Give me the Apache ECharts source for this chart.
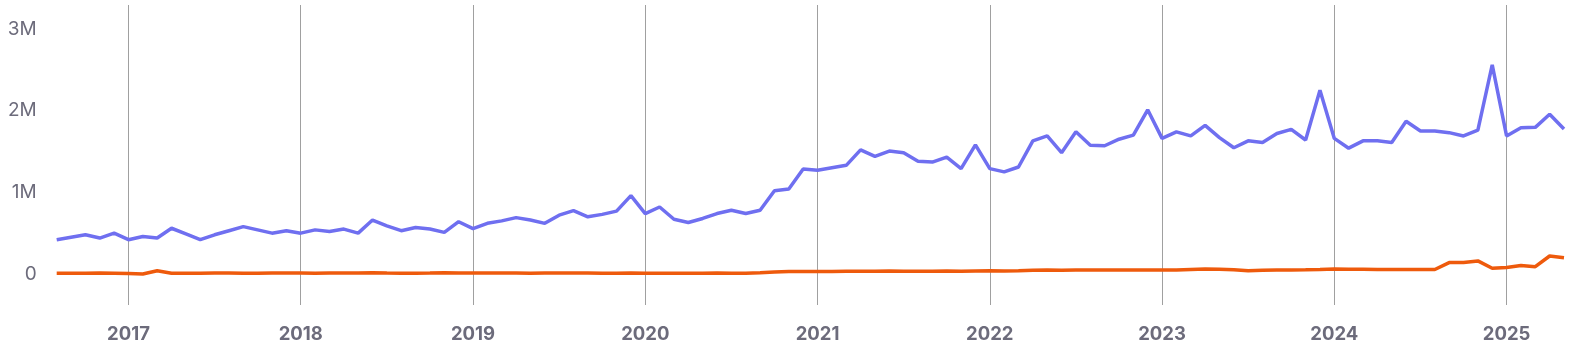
<!DOCTYPE html>
<html>
<head>
<meta charset="utf-8">
<script src="https://cdn.jsdelivr.net/npm/echarts@6/dist/echarts.min.js"></script>
<style>
  html, body { margin: 0; padding: 0; background: #ffffff; }
  #chart { width: 1572px; height: 357px; }
</style>
</head>
<body>
<div id="chart"></div>
<script>
// Monthly categories Aug 2016 .. May 2025
const months = [
  '2016-08','2016-09','2016-10','2016-11','2016-12',
  '2017-01','2017-02','2017-03','2017-04','2017-05','2017-06','2017-07','2017-08','2017-09','2017-10','2017-11','2017-12',
  '2018-01','2018-02','2018-03','2018-04','2018-05','2018-06','2018-07','2018-08','2018-09','2018-10','2018-11','2018-12',
  '2019-01','2019-02','2019-03','2019-04','2019-05','2019-06','2019-07','2019-08','2019-09','2019-10','2019-11','2019-12',
  '2020-01','2020-02','2020-03','2020-04','2020-05','2020-06','2020-07','2020-08','2020-09','2020-10','2020-11','2020-12',
  '2021-01','2021-02','2021-03','2021-04','2021-05','2021-06','2021-07','2021-08','2021-09','2021-10','2021-11','2021-12',
  '2022-01','2022-02','2022-03','2022-04','2022-05','2022-06','2022-07','2022-08','2022-09','2022-10','2022-11','2022-12',
  '2023-01','2023-02','2023-03','2023-04','2023-05','2023-06','2023-07','2023-08','2023-09','2023-10','2023-11','2023-12',
  '2024-01','2024-02','2024-03','2024-04','2024-05','2024-06','2024-07','2024-08','2024-09','2024-10','2024-11','2024-12',
  '2025-01','2025-02','2025-03','2025-04','2025-05'
];

// Values in millions
const blueSeries = [
  0.42,0.45,0.48,0.44,0.50,
  0.42,0.46,0.44,0.56,0.49,0.42,0.48,0.53,0.58,0.54,0.50,0.53,
  0.50,0.54,0.52,0.55,0.50,0.66,0.59,0.53,0.57,0.55,0.51,0.64,
  0.555,0.62,0.65,0.69,0.66,0.62,0.72,0.775,0.70,0.73,0.77,0.96,
  0.74,0.82,0.67,0.63,0.68,0.74,0.78,0.74,0.78,1.02,1.04,1.285,
  1.27,1.30,1.33,1.52,1.44,1.505,1.485,1.38,1.37,1.43,1.29,1.58,
  1.29,1.25,1.31,1.63,1.69,1.485,1.74,1.575,1.57,1.65,1.70,2.01,
  1.66,1.74,1.69,1.82,1.67,1.545,1.63,1.61,1.72,1.77,1.64,2.25,
  1.66,1.54,1.63,1.63,1.61,1.87,1.75,1.75,1.73,1.69,1.76,2.56,
  1.69,1.79,1.795,1.955,1.775
];

const orangeSeries = [
  0.01,0.01,0.01,0.012,0.01,
  0.005,0.0,0.04,0.01,0.01,0.01,0.012,0.012,0.01,0.01,0.012,0.012,
  0.012,0.01,0.012,0.012,0.012,0.015,0.012,0.01,0.01,0.012,0.015,0.012,
  0.012,0.012,0.012,0.012,0.01,0.012,0.012,0.012,0.012,0.01,0.01,0.012,
  0.01,0.01,0.008,0.008,0.01,0.012,0.01,0.01,0.015,0.025,0.03,0.03,
  0.03,0.032,0.035,0.035,0.035,0.037,0.035,0.035,0.035,0.038,0.035,0.038,
  0.04,0.038,0.04,0.045,0.05,0.045,0.048,0.05,0.05,0.05,0.05,0.05,
  0.05,0.048,0.055,0.06,0.058,0.052,0.04,0.045,0.048,0.05,0.052,0.055,
  0.06,0.058,0.058,0.055,0.056,0.055,0.055,0.055,0.14,0.14,0.16,0.07,
  0.08,0.105,0.09,0.22,0.20
];

const yTickValues = [0, 1, 2, 3];

const chart = echarts.init(document.getElementById('chart'), null, { renderer: 'canvas' });
const isJan = (idx, val) => String(val).slice(5) === '01';

chart.setOption({
  animation: false,
  backgroundColor: '#ffffff',
  grid: { left: 56.7, right: 8, top: 5, bottom: 52, containLabel: false },
  xAxis: {
    type: 'category',
    data: months,
    boundaryGap: false,
    axisLine: { show: false },
    axisTick: { show: false },
    axisLabel: {
      interval: isJan,
      formatter: (v) => v.slice(0, 4),
      color: '#6c6b7b',
      fontFamily: 'Inter',
      fontWeight: 'bold',
      fontSize: 18.5,
      margin: 20
    },
    splitLine: {
      show: true,
      interval: isJan,
      lineStyle: { color: '#a0a0a0', width: 1 }
    }
  },
  yAxis: {
    type: 'value',
    min: -0.3794,
    max: 3.2925,
    axisLine: { show: false },
    axisTick: { show: false },
    splitLine: { show: false },
    axisLabel: {
      customValues: yTickValues,
      formatter: (v) => (v === 0 ? '0' : v + 'M'),
      color: '#6c6b7b',
      fontFamily: 'Inter',
      fontSize: 19,
      margin: 20
    }
  },
  series: [
    {
      type: 'line',
      data: blueSeries,
      showSymbol: false,
      lineStyle: { color: '#6f6ff0', width: 3.5 },
      itemStyle: { color: '#6f6ff0' },
      z: 3
    },
    {
      type: 'line',
      data: orangeSeries,
      showSymbol: false,
      lineStyle: { color: '#ee5a0c', width: 3.5 },
      itemStyle: { color: '#ee5a0c' },
      z: 2
    }
  ]
});
</script>
</body>
</html>
